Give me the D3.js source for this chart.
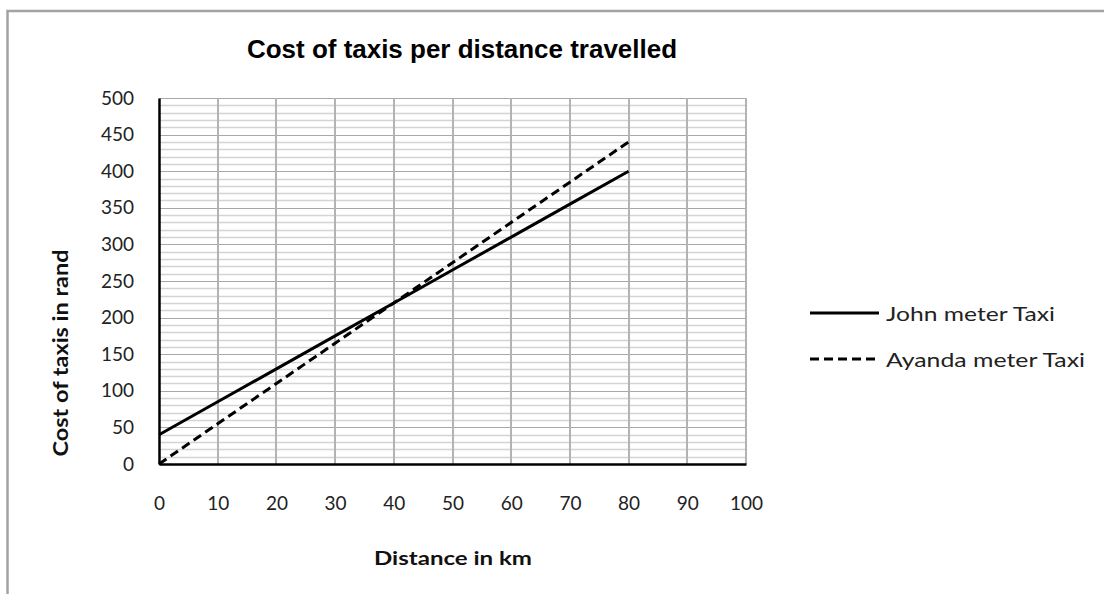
<!DOCTYPE html>
<html>
<head>
<meta charset="utf-8">
<script src="https://cdn.jsdelivr.net/npm/d3@7"></script>
<style>
  html, body { margin: 0; padding: 0; background: #fff; }
  svg { display: block; }
</style>
</head>
<body>
<svg id="chart" width="1104" height="594"></svg>
<script>
// Distance travelled (km) and the fare charged by each taxi (rand)
const distance = [0, 10, 20, 30, 40, 50, 60, 70, 80];
const johnCost = [40, 85, 130, 175, 220, 265, 310, 355, 400];
const ayandaCost = [0, 55, 110, 165, 220, 275, 330, 385, 440];

const xTicks = [0, 10, 20, 30, 40, 50, 60, 70, 80, 90, 100];
const yTicks = [0, 50, 100, 150, 200, 250, 300, 350, 400, 450, 500];
const yMinor = d3.range(0, 501, 10);

const seriesNames = ["John meter Taxi", "Ayanda meter Taxi"];

const bodyFont = "Lato, 'Open Sans', sans-serif";
const titleFont = "'Liberation Sans', Arial, sans-serif";

const svg = d3.select("#chart");

// chart frame
svg.append("rect")
  .attr("x", 7.5).attr("y", 11).attr("width", 1200).attr("height", 700)
  .attr("fill", "none").attr("stroke", "#a3a3a3").attr("stroke-width", 2.5);

const x = d3.scaleLinear().domain([0, 100]).range([159, 746]);
const y = d3.scaleLinear().domain([0, 500]).range([464, 98]);

const grid = svg.append("g");

// minor horizontal grid
grid.selectAll("line.minor").data(yMinor.filter(v => v % 50 !== 0)).join("line")
  .attr("x1", x(0)).attr("x2", x(100))
  .attr("y1", d => Math.round(y(d)) + 0.5).attr("y2", d => Math.round(y(d)) + 0.5)
  .attr("stroke", "#d4d4d4").attr("stroke-width", 1.5);

// major horizontal grid
grid.selectAll("line.major").data(yTicks.filter(v => v > 0)).join("line")
  .attr("x1", x(0)).attr("x2", x(100))
  .attr("y1", d => Math.round(y(d)) + 0.5).attr("y2", d => Math.round(y(d)) + 0.5)
  .attr("stroke", "#a8a8a8").attr("stroke-width", 1.2);

// vertical grid
grid.selectAll("line.vert").data(xTicks.filter(v => v > 0)).join("line")
  .attr("x1", d => Math.round(x(d))).attr("x2", d => Math.round(x(d)))
  .attr("y1", y(500)).attr("y2", y(0))
  .attr("stroke", "#b3b3b3").attr("stroke-width", 2);

// axes
const xAxis = d3.axisBottom(x).tickValues(xTicks).tickSize(0).tickPadding(33);
const gx = svg.append("g").attr("transform", `translate(0,${y(0)})`).call(xAxis);
gx.select(".domain").attr("stroke", "#000").attr("stroke-width", 2.5);
gx.selectAll("text").attr("font-size", 19).attr("font-family", bodyFont).attr("fill", "#222");

const yAxis = d3.axisLeft(y).tickValues(yTicks).tickSize(0).tickPadding(25);
const gy = svg.append("g").attr("transform", `translate(${x(0)},0)`).call(yAxis);
gy.select(".domain").attr("stroke", "#000").attr("stroke-width", 2.5);
gy.selectAll("text").attr("font-size", 19).attr("font-family", bodyFont).attr("fill", "#222");

// series lines
const line = vals => d3.line()
  .x((d, i) => x(distance[i]))
  .y(d => y(d))(vals);

svg.append("path").attr("d", line(johnCost))
  .attr("fill", "none").attr("stroke", "#000").attr("stroke-width", 3);
svg.append("path").attr("d", line(ayandaCost))
  .attr("fill", "none").attr("stroke", "#000").attr("stroke-width", 3)
  .attr("stroke-dasharray", "9,5");

// title
svg.append("text")
  .attr("x", 462).attr("y", 58).attr("text-anchor", "middle")
  .attr("font-family", titleFont)
  .attr("font-weight", "bold").attr("font-size", 25)
  .attr("textLength", 430).attr("lengthAdjust", "spacingAndGlyphs")
  .attr("fill", "#000")
  .text("Cost of taxis per distance travelled");

// axis titles
svg.append("text")
  .attr("x", 453).attr("y", 565).attr("text-anchor", "middle")
  .attr("font-family", bodyFont)
  .attr("font-weight", "bold").attr("font-size", 19)
  .attr("textLength", 158).attr("lengthAdjust", "spacingAndGlyphs")
  .attr("fill", "#111")
  .text("Distance in km");

svg.append("text")
  .attr("transform", "translate(68,353) rotate(-90)")
  .attr("text-anchor", "middle")
  .attr("font-family", bodyFont)
  .attr("font-weight", "bold").attr("font-size", 20)
  .attr("textLength", 207).attr("lengthAdjust", "spacingAndGlyphs")
  .attr("fill", "#111")
  .text("Cost of taxis in rand");

// legend
const legend = svg.append("g");
const legendY = [313, 359];
const legendLen = [169, 199];
seriesNames.forEach((name, i) => {
  legend.append("line")
    .attr("x1", 810).attr("x2", 879).attr("y1", legendY[i]).attr("y2", legendY[i])
    .attr("stroke", "#000").attr("stroke-width", 3)
    .attr("stroke-dasharray", i === 1 ? "9,5" : null);
  legend.append("text")
    .attr("x", 886).attr("y", legendY[i] + 8)
    .attr("font-family", bodyFont)
    .attr("font-size", 20)
    .attr("textLength", legendLen[i]).attr("lengthAdjust", "spacingAndGlyphs")
    .attr("fill", "#222")
    .text(name);
});
</script>
</body>
</html>
